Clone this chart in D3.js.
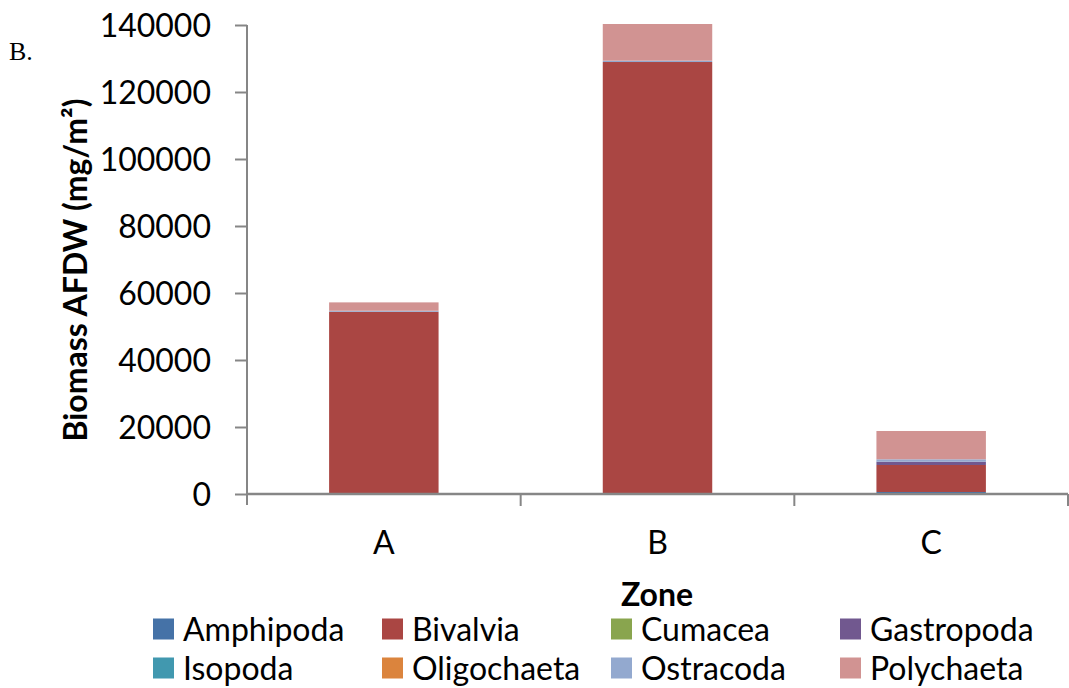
<!DOCTYPE html>
<html>
<head>
<meta charset="utf-8">
<script src="https://cdn.jsdelivr.net/npm/d3@7"></script>
<style>
  html, body { margin: 0; padding: 0; background: #fff; }
  svg { display: block; }
  text { font-family: Lato, "Open Sans", sans-serif; fill: #000; }
  text.panel { font-family: "Liberation Serif", "Times New Roman", serif; }
</style>
</head>
<body>
<svg id="chart" width="1069" height="688"></svg>
<script>
// Zones sampled
const zones = ["A", "B", "C"];

// Taxa, stacked bottom to top
const taxa = ["Amphipoda", "Bivalvia", "Cumacea", "Gastropoda",
              "Isopoda", "Oligochaeta", "Ostracoda", "Polychaeta"];

// Biomass AFDW (mg/m²) per taxon, in zone order A, B, C
const amphipoda   = [0, 300, 600];
const bivalvia    = [54400, 128650, 8060];
const cumacea     = [0, 0, 0];
const gastropoda  = [0, 0, 980];
const isopoda     = [0, 0, 0];
const oligochaeta = [0, 0, 0];
const ostracoda   = [300, 400, 720];
const polychaeta  = [2500, 10950, 8450];

const yTicks = [0, 20000, 40000, 60000, 80000, 100000, 120000, 140000];

const colors = ["#4572A7", "#AA4643", "#89A54E", "#71588F",
                "#4198AF", "#DB843D", "#93A9CF", "#D19392"];

const seriesValues = [amphipoda, bivalvia, cumacea, gastropoda,
                      isopoda, oligochaeta, ostracoda, polychaeta];

const rows = zones.map((z, i) => {
  const r = { zone: z };
  taxa.forEach((t, k) => { r[t] = seriesValues[k][i]; });
  return r;
});

const svg = d3.select("#chart");
const axisColor = "#868686";

const plot = { left: 247, right: 1068, top: 25, bottom: 494 };

const x = d3.scaleBand()
  .domain(zones)
  .range([plot.left, plot.right])
  .paddingInner(0.6)
  .paddingOuter(0.3);

const y = d3.scaleLinear()
  .domain([0, 140000])
  .range([plot.bottom, plot.top]);

const color = d3.scaleOrdinal().domain(taxa).range(colors);

const stacked = d3.stack().keys(taxa)(rows);

// Stacked bars
svg.append("g")
  .selectAll("g")
  .data(stacked)
  .join("g")
  .attr("fill", d => color(d.key))
  .selectAll("rect")
  .data(d => d)
  .join("rect")
  .attr("x", d => x(d.data.zone))
  .attr("width", x.bandwidth())
  .attr("y", d => y(d[1]))
  .attr("height", d => Math.max(0, y(d[0]) - y(d[1])));

// Y axis
const yAxis = d3.axisLeft(y)
  .tickValues(yTicks)
  .tickFormat(d3.format("d"))
  .tickSize(12)
  .tickPadding(24);

const gy = svg.append("g")
  .attr("transform", `translate(${plot.left},0)`)
  .call(yAxis);
gy.select(".domain").remove();
gy.selectAll(".tick line").attr("stroke", axisColor).attr("stroke-width", 2);
gy.selectAll(".tick text")
  .style("font-size", "32px")
  .style("font-family", "Lato, sans-serif")
  .attr("fill", "#000")
  .attr("dy", "0.36em");
svg.append("line")
  .attr("x1", plot.left).attr("x2", plot.left)
  .attr("y1", plot.top).attr("y2", plot.bottom + 11)
  .attr("stroke", axisColor).attr("stroke-width", 2);

// X axis with boundary ticks between zones
const step = x.step();
const bounds = zones.map(z => x(z) - step * x.paddingOuter())
  .concat([plot.right]);
svg.append("line")
  .attr("x1", plot.left).attr("x2", plot.right)
  .attr("y1", plot.bottom).attr("y2", plot.bottom)
  .attr("stroke", axisColor).attr("stroke-width", 2.5);
svg.append("g")
  .selectAll("line")
  .data(bounds.slice(1))
  .join("line")
  .attr("x1", d => d).attr("x2", d => d)
  .attr("y1", plot.bottom).attr("y2", plot.bottom + 12)
  .attr("stroke", axisColor).attr("stroke-width", 2);

svg.append("g")
  .selectAll("text")
  .data(zones)
  .join("text")
  .attr("x", d => x(d) + x.bandwidth() / 2)
  .attr("y", 554)
  .attr("text-anchor", "middle")
  .style("font-size", "32px")
  .text(d => d);

// Axis titles
svg.append("text")
  .attr("x", 657).attr("y", 606)
  .attr("text-anchor", "middle")
  .style("font-size", "32px")
  .style("font-weight", "bold")
  .text("Zone");

svg.append("text")
  .attr("transform", "translate(87,270) rotate(-90)")
  .attr("text-anchor", "middle")
  .style("font-size", "32px")
  .style("font-weight", "bold")
  .text("Biomass AFDW (mg/m²)");

// Panel letter
svg.append("text")
  .attr("class", "panel")
  .attr("x", 9).attr("y", 60)
  .style("font-size", "26px")
  .text("B.");

// Legend
const legendX = [153, 382, 611, 840];
const legendY = [629, 668];
const legend = svg.append("g")
  .selectAll("g")
  .data(taxa)
  .join("g")
  .attr("transform", (d, i) => `translate(${legendX[i % 4]},${legendY[Math.floor(i / 4)]})`);
legend.append("rect")
  .attr("x", 0).attr("y", -10.5)
  .attr("width", 21).attr("height", 21)
  .attr("fill", d => color(d));
legend.append("text")
  .attr("x", 30).attr("y", 11.5)
  .style("font-size", "32px")
  .text(d => d);
</script>
</body>
</html>
